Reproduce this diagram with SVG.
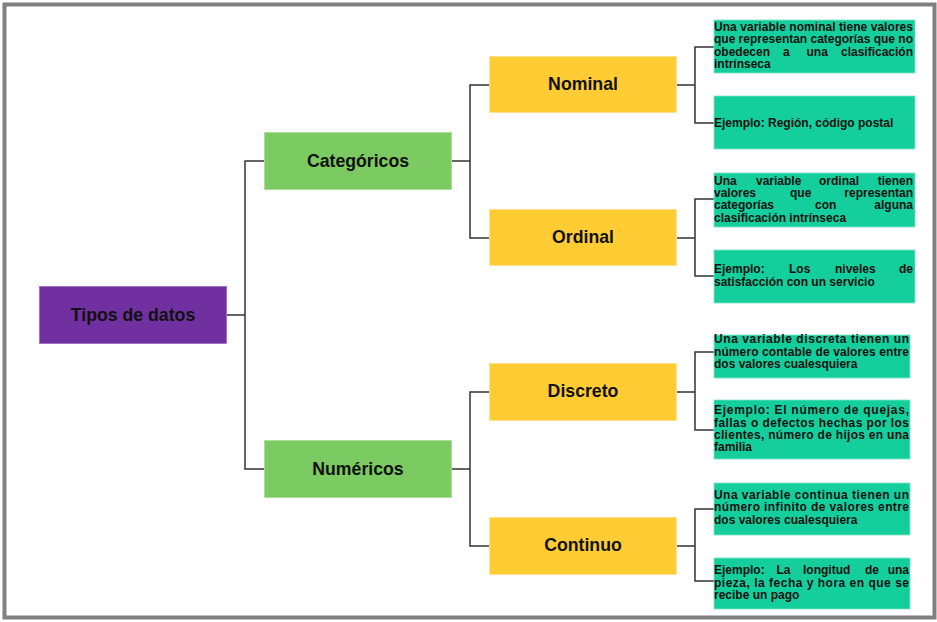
<svg xmlns="http://www.w3.org/2000/svg" width="937" height="622" viewBox="0 0 937 622">
<style>
.frame{fill:#fff;stroke:#808080;stroke-width:4}
.root{fill:#7030A0;stroke:#9a6cc0;stroke-width:0.8}
.cat{fill:#7CCA62;stroke:#a8dc95;stroke-width:0.8}
.sub{fill:#FFCC33;stroke:#ffe08a;stroke-width:0.8}
.desc{fill:#14CF9B;stroke:#7ee3c4;stroke-width:0.8}
.lbl{font-family:"Liberation Sans",Arial,sans-serif;font-weight:bold;font-size:17.7px;fill:#111;text-anchor:middle}
.t{font-family:"Liberation Sans",Arial,sans-serif;font-weight:bold;font-size:12px;fill:#111}
.e{text-anchor:end}
.conn{fill:none;stroke:#333;stroke-width:1.5}
</style>
<rect class="frame" x="4.5" y="4.5" width="930" height="613"/>
<g id="connectors">
<path class="conn" d="M227 315H245M264 161H245V469H264"/>
<path class="conn" d="M452 161H470M489 85H470V238H489"/>
<path class="conn" d="M452 469H470M489 392H470V546H489"/>
<path class="conn" d="M677 85H695M714 47H695V123H714"/>
<path class="conn" d="M677 238H695M714 199H695V276H714"/>
<path class="conn" d="M677 392H695M714 352H695V430H714"/>
<path class="conn" d="M677 546H695M714 509H695V581H714"/>
</g>
<g id="tipos"><rect class="root" x="39.5" y="286.5" width="187" height="57"/><text class="lbl" x="133" y="320.5">Tipos de datos</text></g>
<g id="categoricos"><rect class="cat" x="264.5" y="132.5" width="187" height="57"/><text class="lbl" x="358" y="166.5">Categóricos</text></g>
<g id="numericos"><rect class="cat" x="264.5" y="440.5" width="187" height="57"/><text class="lbl" x="358" y="474.5">Numéricos</text></g>
<g id="nominal"><rect class="sub" x="489.5" y="56.5" width="187" height="56"/><text class="lbl" x="583" y="89.5">Nominal</text></g>
<g id="ordinal"><rect class="sub" x="489.5" y="209.5" width="187" height="56"/><text class="lbl" x="583" y="242.5">Ordinal</text></g>
<g id="discreto"><rect class="sub" x="489.5" y="363.5" width="187" height="57"/><text class="lbl" x="583" y="397">Discreto</text></g>
<g id="continuo"><rect class="sub" x="489.5" y="517.5" width="187" height="57"/><text class="lbl" x="583" y="551">Continuo</text></g>
<g id="nominal-def"><rect class="desc" x="714" y="20" width="201" height="53"/>
<text class="t" x="714" y="30.5" textLength="199" lengthAdjust="spacing">Una variable nominal tiene valores</text>
<text class="t" x="714" y="43" textLength="199" lengthAdjust="spacing">que representan categorías que no</text>
<text class="t" y="55.5"><tspan x="714">obedecen</tspan><tspan x="783">a</tspan><tspan x="806.5">una</tspan></text>
<text class="t e" x="913" y="55.5">clasificación</text>
<text class="t" x="714" y="68">intrínseca</text></g>
<g id="nominal-ej"><rect class="desc" x="714" y="96" width="201" height="53"/>
<text class="t" x="714" y="127">Ejemplo: Región, código postal</text></g>
<g id="ordinal-def"><rect class="desc" x="714" y="173" width="201" height="54"/>
<text class="t" y="184.5"><tspan x="714">Una</tspan><tspan x="756">variable</tspan><tspan x="819">ordinal</tspan></text>
<text class="t e" x="913" y="184.5">tienen</text>
<text class="t" y="196.8"><tspan x="714">valores</tspan><tspan x="790">que</tspan></text>
<text class="t e" x="913" y="196.8">representan</text>
<text class="t" y="209.2"><tspan x="714">categorías</tspan><tspan x="815">con</tspan></text>
<text class="t e" x="913" y="209.2">alguna</text>
<text class="t" x="714" y="221.5">clasificación intrínseca</text></g>
<g id="ordinal-ej"><rect class="desc" x="714" y="250" width="201" height="53"/>
<text class="t" y="273.3"><tspan x="714">Ejemplo:</tspan><tspan x="789">Los</tspan><tspan x="835">niveles</tspan></text>
<text class="t e" x="913" y="273.3">de</text>
<text class="t" x="714" y="285.7">satisfacción con un servicio</text></g>
<g id="discreto-def"><rect class="desc" x="714" y="335" width="196" height="43"/>
<text class="t" x="714" y="343" textLength="195" lengthAdjust="spacing">Una variable discreta tienen un</text>
<text class="t" x="714" y="355.5" textLength="195" lengthAdjust="spacing">número contable de valores entre</text>
<text class="t" x="714" y="368">dos valores cualesquiera</text></g>
<g id="discreto-ej"><rect class="desc" x="714" y="400" width="196" height="59"/>
<text class="t" x="714" y="414" textLength="195" lengthAdjust="spacing">Ejemplo: El número de quejas,</text>
<text class="t" x="714" y="426.5" textLength="195" lengthAdjust="spacing">fallas o defectos hechas por los</text>
<text class="t" x="714" y="439" textLength="195" lengthAdjust="spacing">clientes, número de hijos en una</text>
<text class="t" x="714" y="451.2">familia</text></g>
<g id="continuo-def"><rect class="desc" x="714" y="483" width="196" height="52"/>
<text class="t" x="714" y="498.5" textLength="195" lengthAdjust="spacing">Una variable continua tienen un</text>
<text class="t" x="714" y="511" textLength="195" lengthAdjust="spacing">número infinito de valores entre</text>
<text class="t" x="714" y="523.5">dos valores cualesquiera</text></g>
<g id="continuo-ej"><rect class="desc" x="714" y="558" width="196" height="51"/>
<text class="t" y="574"><tspan x="714">Ejemplo:</tspan><tspan x="776.5">La</tspan><tspan x="803">longitud</tspan><tspan x="865">de</tspan></text>
<text class="t e" x="909" y="574">una</text>
<text class="t" x="714" y="586.5" textLength="195" lengthAdjust="spacing">pieza, la fecha y hora en que se</text>
<text class="t" x="714" y="599">recibe un pago</text></g>
</svg>
